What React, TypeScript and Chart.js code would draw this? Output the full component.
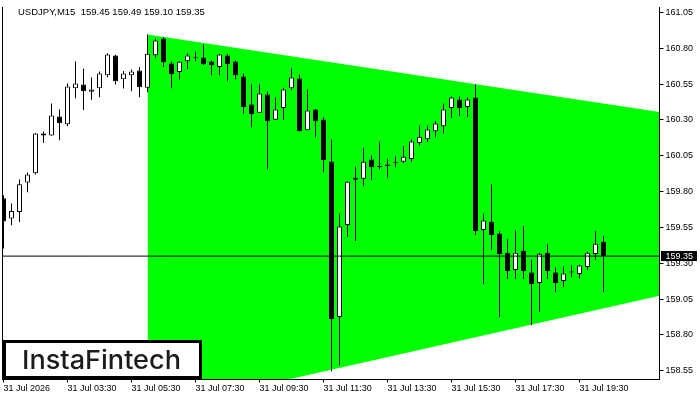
import React, { useEffect, useRef } from 'react';
import { Chart, registerables } from 'chart.js';

Chart.register(...registerables);

// 15-minute bars, 31 Jul 2026
const times = [
  '01:30', '01:45', '02:00', '02:15', '02:30', '02:45', '03:00', '03:15',
  '03:30', '03:45', '04:00', '04:15', '04:30', '04:45', '05:00', '05:15',
  '05:30', '05:45', '06:00', '06:15', '06:30', '06:45', '07:00', '07:15',
  '07:30', '07:45', '08:00', '08:15', '08:30', '08:45', '09:00', '09:15',
  '09:30', '09:45', '10:00', '10:15', '10:30', '10:45', '11:00', '11:15',
  '11:30', '11:45', '12:00', '12:15', '12:30', '12:45', '13:00', '13:15',
  '13:30', '13:45', '14:00', '14:15', '14:30', '14:45', '15:00', '15:15',
  '15:30', '15:45', '16:00', '16:15', '16:30', '16:45', '17:00', '17:15',
  '17:30', '17:45', '18:00', '18:15', '18:30', '18:45', '19:00', '19:15',
  '19:30', '19:45', '20:00', '20:15',
];

const opens = [
  159.753, 159.613, 159.657, 159.864, 159.929, 160.192, 160.192, 160.325,
  160.271, 160.522, 160.548, 160.497, 160.522, 160.613, 160.750, 160.585,
  160.613, 160.645, 160.525, 160.752, 160.869, 160.694, 160.634, 160.710,
  160.731, 160.736, 160.708, 160.669, 160.750, 160.708, 160.604, 160.408,
  160.351, 160.478, 160.302, 160.383, 160.522, 160.590, 160.229, 160.374,
  160.304, 160.011, 158.925, 159.567, 159.883, 159.890, 160.025, 159.981,
  159.990, 160.002, 160.009, 160.027, 160.139, 160.166, 160.222, 160.257,
  160.383, 160.443, 160.390, 160.457, 159.532, 159.590, 159.507, 159.374,
  159.253, 159.388, 159.235, 159.162, 159.374, 159.235, 159.176, 159.235,
  159.225, 159.274, 159.364, 159.45,
];
const highs = [
  159.774, 159.718, 159.885, 159.934, 160.210, 160.220, 160.415, 160.374,
  160.555, 160.708, 160.659, 160.597, 160.639, 160.766, 160.755, 160.641,
  160.652, 160.669, 160.897, 160.867, 160.878, 160.708, 160.708, 160.766,
  160.778, 160.827, 160.715, 160.760, 160.762, 160.715, 160.625, 160.548,
  160.548, 160.499, 160.457, 160.525, 160.659, 160.618, 160.513, 160.376,
  160.320, 160.164, 159.648, 159.870, 159.976, 160.102, 160.053, 160.150,
  160.032, 160.046, 160.116, 160.164, 160.262, 160.262, 160.292, 160.415,
  160.464, 160.464, 160.457, 160.548, 159.648, 159.851, 159.523, 159.467,
  159.530, 159.558, 159.325, 159.374, 159.432, 159.270, 159.277, 159.284,
  159.290, 159.380, 159.523, 159.49,
];
const lows = [
  159.404, 159.565, 159.588, 159.795, 159.920, 160.139, 160.190, 160.159,
  160.257, 160.452, 160.369, 160.441, 160.459, 160.599, 160.548, 160.520,
  160.501, 160.459, 160.494, 160.731, 160.669, 160.522, 160.583, 160.655,
  160.710, 160.683, 160.613, 160.613, 160.569, 160.585, 160.341, 160.250,
  160.350, 159.957, 160.300, 160.299, 160.508, 160.220, 160.229, 160.180,
  159.936, 158.546, 158.588, 159.483, 159.455, 159.837, 159.881, 159.957,
  159.894, 159.971, 159.999, 160.006, 160.118, 160.146, 160.180, 160.208,
  160.313, 160.327, 160.320, 159.497, 159.155, 159.392, 158.925, 159.190,
  159.190, 159.190, 158.869, 158.960, 159.190, 159.099, 159.134, 159.204,
  159.190, 159.253, 159.323, 159.10,
];
const closes = [
  159.592, 159.664, 159.851, 159.920, 160.206, 160.206, 160.332, 160.278,
  160.534, 160.555, 160.501, 160.513, 160.625, 160.757, 160.571, 160.625,
  160.639, 160.529, 160.762, 160.855, 160.703, 160.620, 160.706, 160.750,
  160.731, 160.689, 160.683, 160.757, 160.689, 160.613, 160.390, 160.341,
  160.485, 160.292, 160.374, 160.513, 160.597, 160.222, 160.367, 160.292,
  160.020, 158.911, 159.556, 159.869, 159.897, 160.009, 159.971, 159.971,
  159.978, 160.002, 160.044, 160.150, 160.183, 160.234, 160.276, 160.374,
  160.457, 160.383, 160.443, 159.525, 159.599, 159.497, 159.364, 159.246,
  159.374, 159.246, 159.155, 159.367, 159.246, 159.162, 159.228, 159.235,
  159.284, 159.374, 159.437, 159.35,
];

// Triangle pattern (bar index, price)
const triangleX = [18, 82];
const triangleTop = [160.897, 160.356];
const triangleBottom = [158.268, 159.073];

// Axes
const xTickIndex = [0, 8, 16, 24, 32, 40, 48, 56, 64, 72];
const xTickLabels = [
  '31 Jul 2026', '31 Jul 03:30', '31 Jul 05:30', '31 Jul 07:30', '31 Jul 09:30',
  '31 Jul 11:30', '31 Jul 13:30', '31 Jul 15:30', '31 Jul 17:30', '31 Jul 19:30',
];
const yTicks = [158.55, 158.8, 159.05, 159.3, 159.55, 159.8, 160.05, 160.3, 160.55, 160.8, 161.05];
const xMin = -0.125;
const xMax = 82;
const yMin = 158.489;
const yMax = 161.0884;

const symbolTitle = 'USDJPY,M15';
const FONT = "'Liberation Sans', Arial, sans-serif";

export default function App() {
  const canvasRef = useRef<HTMLCanvasElement | null>(null);

  useEffect(() => {
    document.body.style.margin = '0';
    const canvas = canvasRef.current;
    if (!canvas) return;
    const last = closes.length - 1;
    const bid = closes[last];

    const overlay = {
      id: 'mtOverlay',
      afterDraw(chart: any) {
        const ctx = chart.ctx as CanvasRenderingContext2D;
        const area = chart.chartArea;
        const yScale = chart.scales.y;
        ctx.save();
        // left frame line
        ctx.strokeStyle = '#000';
        ctx.lineWidth = 1;
        ctx.beginPath();
        ctx.moveTo(area.left, area.top);
        ctx.lineTo(area.left, area.bottom);
        ctx.stroke();

        // title
        ctx.fillStyle = '#000';
        ctx.font = `9.5px ${FONT}`;
        ctx.textBaseline = 'alphabetic';
        ctx.textAlign = 'left';
        const title = `${symbolTitle}  ${opens[last].toFixed(2)} ${highs[last].toFixed(2)} ${lows[last].toFixed(2)} ${closes[last].toFixed(2)}`;
        ctx.fillText(title, 18, 14.5);

        // bid price label
        const py = yScale.getPixelForValue(bid);
        ctx.fillStyle = '#000';
        ctx.fillRect(area.right + 1.5, Math.round(py) - 5, 36, 10);
        ctx.fillStyle = '#fff';
        ctx.font = `9px ${FONT}`;
        ctx.textBaseline = 'middle';
        ctx.fillText(bid.toFixed(2), area.right + 6, Math.round(py) + 0.5);

        // logo
        ctx.fillStyle = '#fff';
        ctx.fillRect(3, 340, 199, 39);
        ctx.strokeStyle = '#000';
        ctx.lineWidth = 3;
        ctx.strokeRect(4.5, 341.5, 196, 36);
        ctx.fillStyle = '#1c1c1c';
        ctx.font = "500 26px Inter, 'Noto Sans', sans-serif";
        ctx.textBaseline = 'alphabetic';
        const logo = 'InstaFintech';
        const w = ctx.measureText(logo).width;
        ctx.translate(22, 369);
        ctx.scale(159 / w, 1);
        ctx.fillText(logo, 0, 0);
        ctx.restore();
      },
    };

    const chart = new Chart(canvas, {
      type: 'bar',
      data: {
        datasets: [
          {
            type: 'line',
            data: triangleX.map((x, i) => ({ x, y: triangleTop[i] })),
            borderColor: 'transparent',
            borderWidth: 0,
            pointRadius: 0,
            fill: false,
            order: 3,
          } as any,
          {
            type: 'line',
            data: triangleX.map((x, i) => ({ x, y: triangleBottom[i] })),
            borderColor: 'transparent',
            borderWidth: 0,
            pointRadius: 0,
            backgroundColor: '#00ff00',
            fill: '-1',
            order: 3,
          } as any,
          {
            type: 'bar',
            data: times.map((_, i) => ({ x: i, y: [lows[i], highs[i]] })),
            backgroundColor: '#000',
            borderWidth: 0,
            barThickness: 1,
            grouped: false,
            inflateAmount: 0,
            order: 2,
          } as any,
          {
            type: 'bar',
            data: times.map((_, i) => ({ x: i, y: [opens[i], closes[i]] })),
            backgroundColor: times.map((_, i) => (closes[i] > opens[i] ? '#ffffff' : '#000000')),
            borderColor: '#000',
            borderWidth: 1,
            borderSkipped: false,
            barThickness: 5,
            minBarLength: 1,
            grouped: false,
            inflateAmount: 0,
            order: 1,
          } as any,
          {
            type: 'line',
            data: [
              { x: xMin, y: bid },
              { x: xMax, y: bid },
            ],
            borderColor: '#000',
            borderWidth: 1,
            pointRadius: 0,
            fill: false,
            order: 0,
          } as any,
        ],
      },
      options: {
        responsive: false,
        animation: false,
        devicePixelRatio: 1,
        layout: { padding: { left: 2.5, top: 7, right: 0, bottom: 0 } },
        plugins: {
          legend: { display: false },
          tooltip: { enabled: false },
        },
        scales: {
          x: {
            type: 'linear',
            min: xMin,
            max: xMax,
            offset: false,
            grid: { display: true, drawOnChartArea: false, offset: false, color: '#000', tickLength: 3 },
            border: { display: true, color: '#000', z: 1 },
            afterBuildTicks: (scale: any) => {
              scale.ticks = xTickIndex.map((v) => ({ value: v }));
            },
            afterFit: (scale: any) => {
              scale.height = 20.5;
              scale.paddingLeft = 0;
              scale.paddingRight = 0;
            },
            ticks: {
              autoSkip: false,
              maxRotation: 0,
              minRotation: 0,
              align: 'start',
              padding: 1,
              color: '#000',
              font: { family: FONT, size: 9, lineHeight: 1.2 },
              callback: (_v: any, i: number) => xTickLabels[i],
            },
          },
          y: {
            type: 'linear',
            position: 'right',
            min: yMin,
            max: yMax,
            beginAtZero: false,
            grid: { display: true, drawOnChartArea: false, color: '#000', tickLength: 4 },
            border: { display: true, color: '#000', z: 1 },
            afterBuildTicks: (scale: any) => {
              scale.ticks = yTicks.map((v) => ({ value: v }));
            },
            afterFit: (scale: any) => {
              scale.width = 40.5;
              scale.paddingTop = 0;
              scale.paddingBottom = 0;
            },
            ticks: {
              autoSkip: false,
              padding: 2,
              color: '#000',
              font: { family: FONT, size: 9, lineHeight: 1.2 },
              callback: (v: any) => Number(v).toFixed(2),
            },
          },
        },
      } as any,
      plugins: [overlay],
    });

    return () => chart.destroy();
  }, []);

  return (
    <div style={{ width: 700, height: 400, background: '#fff' }}>
      <canvas ref={canvasRef} width={700} height={400} style={{ display: 'block' }} />
    </div>
  );
}
